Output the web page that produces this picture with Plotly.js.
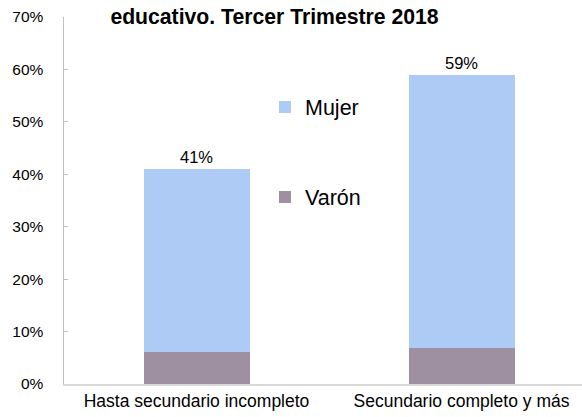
<!DOCTYPE html>
<html>
<head>
<meta charset="utf-8">
<script src="https://cdn.plot.ly/plotly-3.0.1.min.js"></script>
<style>html,body{margin:0;padding:0;background:#fff}#chart{width:582px;height:417px}</style>
</head>
<body>
<div id="chart"></div>
<script>
var categories = ["Hasta secundario incompleto", "Secundario completo y más"];
var varon = [6.1, 6.9];
var mujer = [34.9, 52.1];
var totals = [41, 59];
var totalLabels = ["41%", "59%"];
var yTickVals = [0, 10, 20, 30, 40, 50, 60, 70];
var yTickText = ["0%", "10%", "20%", "30%", "40%", "50%", "60%", "70%"];
var titleText = "educativo. Tercer Trimestre 2018";

var FONT = "Arial, 'Liberation Sans', sans-serif";

var traces = [
  {type: "bar", name: "Varón", x: categories, y: varon, width: 0.4,
   marker: {color: "#9f90a1"}, legend: "legend2", hoverinfo: "skip"},
  {type: "bar", name: "Mujer", x: categories, y: mujer, width: 0.4,
   marker: {color: "#aecbf6"}, legend: "legend", hoverinfo: "skip"}
];

var annotations = categories.map(function (c, i) {
  return {x: c, y: totals[i], xref: "x", yref: "y", text: totalLabels[i],
    showarrow: false, yanchor: "bottom", yshift: 1,
    font: {family: FONT, size: 16.5, color: "#000"}};
});

var layout = {
  width: 582, height: 417,
  margin: {l: 64, r: 0, t: 17, b: 33},
  paper_bgcolor: "#fff", plot_bgcolor: "#fff",
  barmode: "stack",
  font: {family: FONT, color: "#000"},
  title: {text: "<b>" + titleText + "</b>", xref: "container", yref: "container",
    x: 0.4716, xanchor: "center", y: 0.96, yanchor: "middle",
    font: {family: FONT, size: 21.2, color: "#000"}},
  xaxis: {type: "category", range: [-0.5, 1.4547], showgrid: false, zeroline: false,
    showline: true, linecolor: "#d9d9d9", linewidth: 2, ticks: "",
    tickfont: {family: FONT, size: 17.5, color: "#000"}, automargin: false,
    ticklabelstandoff: 0},
  yaxis: {range: [0, 70], tickvals: yTickVals, ticktext: yTickText, showgrid: false,
    zeroline: false, showline: true, linecolor: "#bfbfbf", linewidth: 1.5,
    ticks: "inside", ticklen: 4, tickcolor: "#bfbfbf", tickwidth: 1,
    tickfont: {family: FONT, size: 15.5, color: "#000"}, automargin: false,
    ticklabelstandoff: 16},
  legend: {x: 0.388, y: 0.7548, xanchor: "left", yanchor: "middle",
    font: {family: FONT, size: 21.5, color: "#000"}, bgcolor: "rgba(0,0,0,0)"},
  legend2: {x: 0.388, y: 0.5095, xanchor: "left", yanchor: "middle",
    font: {family: FONT, size: 21.5, color: "#000"}, bgcolor: "rgba(0,0,0,0)"},
  annotations: annotations,
  showlegend: true
};

Plotly.newPlot("chart", traces, layout, {displayModeBar: false, staticPlot: true});
</script>
</body>
</html>
